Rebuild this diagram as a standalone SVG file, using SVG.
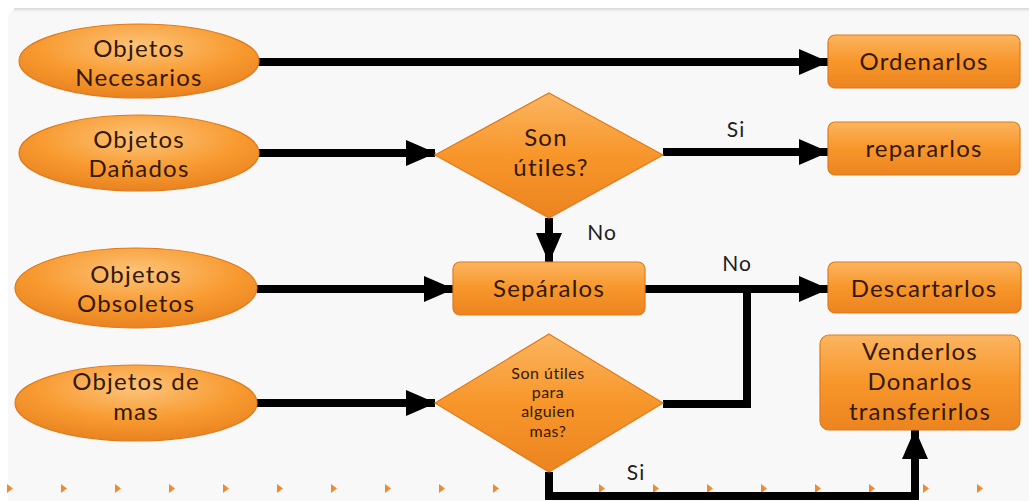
<svg xmlns="http://www.w3.org/2000/svg" width="1029" height="501" viewBox="0 0 1029 501">
  <defs>
    <linearGradient id="og" x1="0" y1="0" x2="0" y2="1">
      <stop offset="0" stop-color="#fbb560"/>
      <stop offset="0.5" stop-color="#f7962a"/>
      <stop offset="1" stop-color="#ec8420"/>
    </linearGradient>
    <radialGradient id="eg" cx="0.5" cy="0.3" r="0.7">
      <stop offset="0" stop-color="#fcc47a"/>
      <stop offset="0.6" stop-color="#f89a30"/>
      <stop offset="1" stop-color="#e98320"/>
    </radialGradient>
    <linearGradient id="topshade" x1="0" y1="0" x2="0" y2="1">
      <stop offset="0" stop-color="#d8d8d8"/>
      <stop offset="1" stop-color="#f8f8f8"/>
    </linearGradient>
    <marker id="ah" markerUnits="userSpaceOnUse" markerWidth="30" markerHeight="26" refX="29" refY="13" orient="auto">
      <path d="M0,0 L30,13 L0,26 z" fill="#000"/>
    </marker>
  </defs>
  <style>
    .shape { stroke: #de7b1c; stroke-width: 1.2; }
    .ell { fill: url(#eg); }
    .box { fill: url(#og); }
    .t { font-family: Lato, "Open Sans", "Liberation Sans", sans-serif; fill: #341800; text-anchor: middle; font-size: 24px; letter-spacing: 1.2px; }
    .ts { font-size: 16px; letter-spacing: 0.5px; }
    .lbl { font-family: Lato, "Open Sans", "Liberation Sans", sans-serif; fill: #1e1e1e; text-anchor: middle; font-size: 21px; letter-spacing: 1px; }
    .c { fill: none; stroke: #000; stroke-width: 8; }
    .tri { fill: #f08a2a; }
  </style>

  <rect x="0" y="0" width="1029" height="501" fill="#ffffff"/>
  <rect x="8" y="8" width="1040" height="520" rx="10" fill="#f8f8f8"/>
  <rect x="14" y="8" width="1020" height="4" fill="url(#topshade)"/>

  <g id="bottom-decor">
    <path class="tri" d="M7,484 l6,4.5 l-6,4.5 z"/>
    <path class="tri" d="M61,484 l6,4.5 l-6,4.5 z"/>
    <path class="tri" d="M115,484 l6,4.5 l-6,4.5 z"/>
    <path class="tri" d="M169,484 l6,4.5 l-6,4.5 z"/>
    <path class="tri" d="M223,484 l6,4.5 l-6,4.5 z"/>
    <path class="tri" d="M277,484 l6,4.5 l-6,4.5 z"/>
    <path class="tri" d="M331,484 l6,4.5 l-6,4.5 z"/>
    <path class="tri" d="M385,484 l6,4.5 l-6,4.5 z"/>
    <path class="tri" d="M439,484 l6,4.5 l-6,4.5 z"/>
    <path class="tri" d="M493,484 l6,4.5 l-6,4.5 z"/>
    <path class="tri" d="M599,484 l6,4.5 l-6,4.5 z"/>
    <path class="tri" d="M653,484 l6,4.5 l-6,4.5 z"/>
    <path class="tri" d="M707,484 l6,4.5 l-6,4.5 z"/>
    <path class="tri" d="M761,484 l6,4.5 l-6,4.5 z"/>
    <path class="tri" d="M815,484 l6,4.5 l-6,4.5 z"/>
    <path class="tri" d="M869,484 l6,4.5 l-6,4.5 z"/>
    <path class="tri" d="M923,484 l6,4.5 l-6,4.5 z"/>
    <path class="tri" d="M977,484 l6,4.5 l-6,4.5 z"/>
  </g>

  <g id="connectors">
    <path class="c" d="M258,62 H828" marker-end="url(#ah)"/>
    <path class="c" d="M259,153 H435" marker-end="url(#ah)"/>
    <path class="c" d="M663,152 H828" marker-end="url(#ah)"/>
    <path class="c" d="M549,218 V262" marker-end="url(#ah)"/>
    <path class="c" d="M257,289 H453" marker-end="url(#ah)"/>
    <path class="c" d="M645,289 H828" marker-end="url(#ah)"/>
    <path class="c" d="M663,404 H747 V289"/>
    <path class="c" d="M257,403 H435" marker-end="url(#ah)"/>
    <path class="c" d="M549,472 V496 H915 V430" marker-end="url(#ah)"/>
    <text class="lbl" x="736" y="137">Si</text>
    <text class="lbl" x="602" y="240">No</text>
    <text class="lbl" x="737" y="271">No</text>
    <text class="lbl" x="636" y="480">Si</text>
  </g>

  <g id="objetos-necesarios">
    <ellipse class="shape ell" cx="139" cy="61" rx="120" ry="37"/>
    <text class="t" x="139" y="57">Objetos</text>
    <text class="t" x="139" y="86">Necesarios</text>
  </g>
  <g id="objetos-danados">
    <ellipse class="shape ell" cx="139" cy="153" rx="120" ry="38"/>
    <text class="t" x="139" y="148">Objetos</text>
    <text class="t" x="139" y="177">Dañados</text>
  </g>
  <g id="objetos-obsoletos">
    <ellipse class="shape ell" cx="136" cy="288" rx="121" ry="40"/>
    <text class="t" x="136" y="283">Objetos</text>
    <text class="t" x="136" y="312">Obsoletos</text>
  </g>
  <g id="objetos-de-mas">
    <ellipse class="shape ell" cx="136" cy="403" rx="121" ry="38"/>
    <text class="t" x="136" y="390">Objetos de</text>
    <text class="t" x="136" y="420">mas</text>
  </g>

  <g id="son-utiles">
    <path class="shape box" d="M549,93 L663,155 L549,218 L435,155 z"/>
    <text class="t" x="546" y="146">Son</text>
    <text class="t" x="551" y="176">útiles?</text>
  </g>
  <g id="son-utiles-alguien">
    <path class="shape box" d="M549,334 L663,403 L549,472 L435,403 z"/>
    <text class="t ts" x="548" y="379">Son útiles</text>
    <text class="t ts" x="548" y="398">para</text>
    <text class="t ts" x="548" y="417">alguien</text>
    <text class="t ts" x="548" y="437">mas?</text>
  </g>

  <g id="separalos">
    <rect class="shape box" x="453" y="262" width="192" height="53" rx="7"/>
    <text class="t" x="549" y="297">Sepáralos</text>
  </g>
  <g id="ordenarlos">
    <rect class="shape box" x="828" y="35" width="192" height="53" rx="7"/>
    <text class="t" x="924" y="70">Ordenarlos</text>
  </g>
  <g id="repararlos">
    <rect class="shape box" x="828" y="122" width="192" height="53" rx="7"/>
    <text class="t" x="924" y="157">repararlos</text>
  </g>
  <g id="descartarlos">
    <rect class="shape box" x="828" y="262" width="193" height="51" rx="7"/>
    <text class="t" x="924" y="297">Descartarlos</text>
  </g>
  <g id="venderlos">
    <rect class="shape box" x="820" y="335" width="200" height="95" rx="9"/>
    <text class="t" x="920" y="360">Venderlos</text>
    <text class="t" x="920" y="390">Donarlos</text>
    <text class="t" x="920" y="420">transferirlos</text>
  </g>
</svg>
